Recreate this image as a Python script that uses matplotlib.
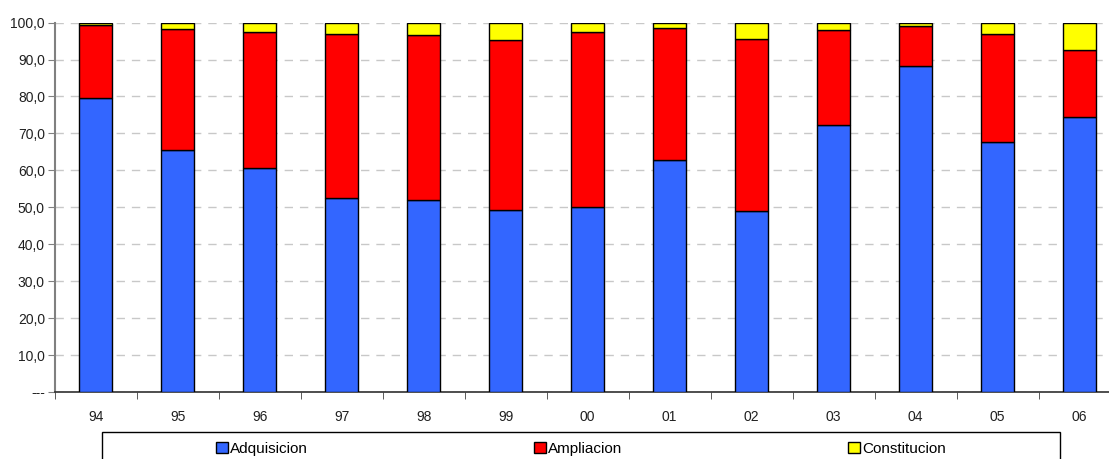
import numpy as np
import matplotlib.pyplot as plt
from matplotlib.patches import Rectangle
from matplotlib.ticker import FixedLocator, FuncFormatter

plt.rcParams['font.family'] = ['Liberation Sans', 'DejaVu Sans']

years = ['94', '95', '96', '97', '98', '99', '00', '01', '02', '03', '04', '05', '06']
adquisicion = [79.6, 65.5, 60.6, 52.5, 52.0, 49.3, 50.1, 62.8, 49.0, 72.3, 88.2, 67.7, 74.5]
ampliacion = [19.7, 32.9, 36.9, 44.5, 44.7, 46.0, 47.4, 35.7, 46.5, 25.7, 10.9, 29.2, 18.1]
constitucion = [0.7, 1.6, 2.5, 3.0, 3.3, 4.7, 2.5, 1.5, 4.5, 2.0, 0.9, 3.1, 7.4]

W, H = 1109, 459
fig = plt.figure(figsize=(W / 100, H / 100), dpi=100)
# axes area runs a bit past the right edge of the figure, like the original
ax = fig.add_axes([54.6 / W, 1 - 392 / H, 13 * 82.0 / W, (392 - 22.6) / H])

x = np.arange(len(years))
a = np.array(adquisicion)
b = np.array(ampliacion)
c = np.array(constitucion)
bw = 0.4
ax.bar(x, a, bw, color='#3366FF', edgecolor='black', linewidth=1, label='Adquisicion', zorder=3)
ax.bar(x, b, bw, bottom=a, color='#FF0000', edgecolor='black', linewidth=1, label='Ampliacion', zorder=3)
ax.bar(x, c, bw, bottom=a + b, color='#FFFF00', edgecolor='black', linewidth=1, label='Constitucion', zorder=3)

ax.set_xlim(-0.5, len(years) - 0.5)
ax.set_ylim(0, 100)

ax.set_yticks(np.arange(0, 101, 10))
ax.yaxis.set_major_formatter(FuncFormatter(lambda v, p: '---' if v == 0 else f'{v:.1f}'.replace('.', ',')))
ax.yaxis.grid(True, color='#C8C8C8', linestyle=(0, (6, 5)), linewidth=1)
ax.set_axisbelow(True)

ax.set_xticks(x)
ax.set_xticklabels(years)
ax.xaxis.set_minor_locator(FixedLocator(np.arange(-0.5, len(years), 1)))
ax.tick_params(axis='x', which='major', length=0, pad=13, labelsize=10, colors='#202020')
ax.tick_params(axis='x', which='minor', length=5, direction='out', color='#404040')
ax.tick_params(axis='y', length=5, direction='out', color='#808080', labelsize=10, labelcolor='#202020', pad=2)

for s in ['top', 'right']:
    ax.spines[s].set_visible(False)
ax.spines['left'].set_color('#808080')
ax.spines['left'].set_linewidth(1.5)
ax.spines['bottom'].set_color('#303030')
ax.spines['bottom'].set_linewidth(1.2)

# legend box, cut off at the bottom of the figure
fig.patches.append(Rectangle((101.7 / W, -0.05), (1060 - 101.7) / W, 0.05 + 1 - 432.3 / H,
                             transform=fig.transFigure, fill=False, edgecolor='black', linewidth=1))
handles, labels = ax.get_legend_handles_labels()
fig.legend(handles, labels, loc='center', bbox_to_anchor=(581 / W, 1 - 449 / H), ncol=3,
           frameon=False, fontsize=11, handlelength=0.75, handleheight=0.75, handletextpad=0.15,
           columnspacing=14.8)

fig.savefig('out.png', dpi=100)
